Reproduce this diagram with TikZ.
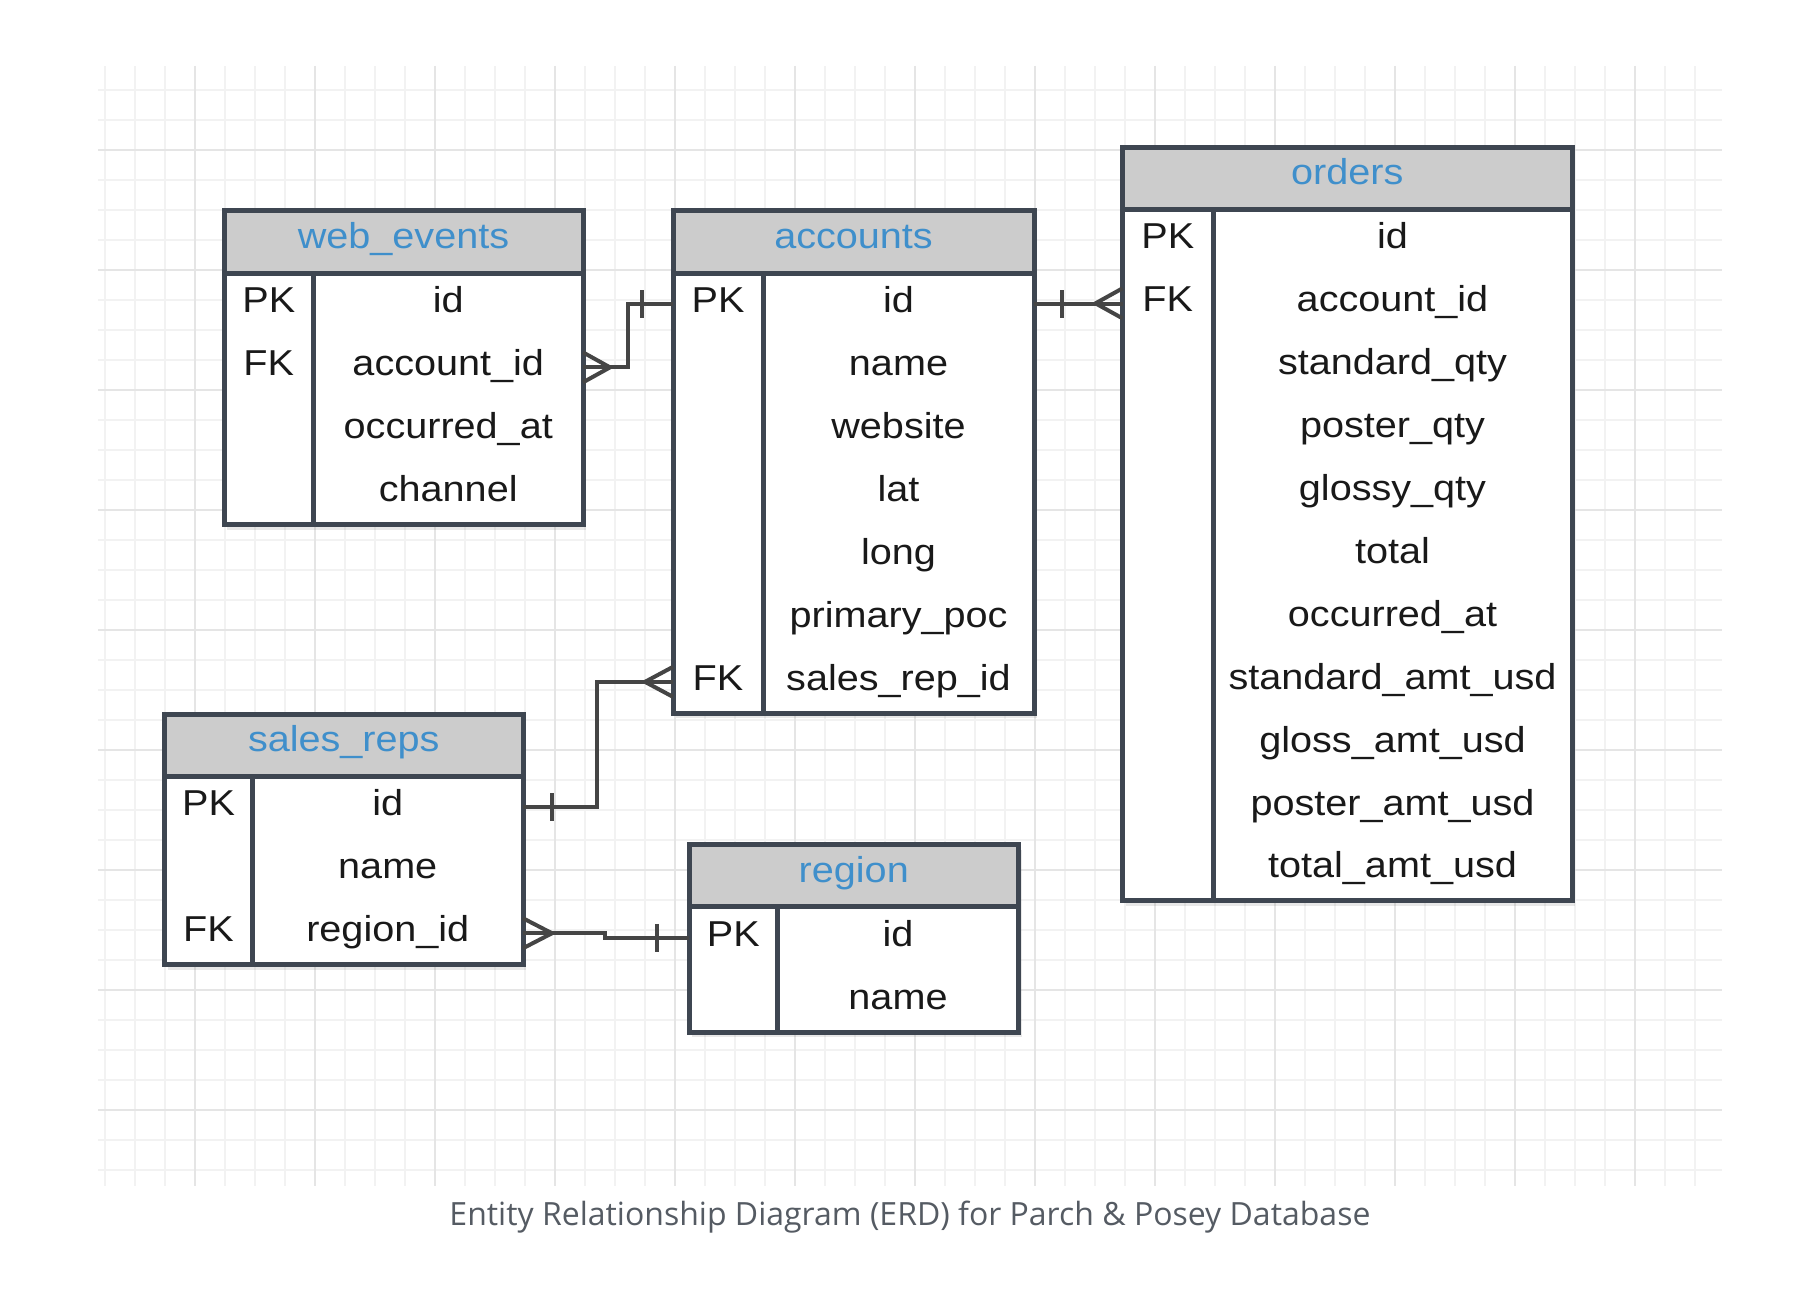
\documentclass[tikz,border=0pt]{standalone}
\usepackage{fontspec}
\usepackage{tikz}
\usetikzlibrary{shadows}
\newfontfamily\erdfont{Liberation Sans}[FakeStretch=1.1]
\newfontfamily\capfont{Open Sans}
\definecolor{erdline}{HTML}{3E4651}
\definecolor{headgray}{HTML}{CCCCCC}
\definecolor{titleblue}{HTML}{3F8FCB}
\definecolor{relgray}{HTML}{454545}
\definecolor{gridminor}{HTML}{F2F2F2}
\definecolor{gridmajor}{HTML}{E5E5E5}
\definecolor{capgray}{HTML}{555B63}
\newcommand{\erdsize}{\erdfont\fontsize{36}{40}\selectfont}
\tikzstyle{tablebox}=[draw=erdline, line width=5pt, fill=white, inner sep=0pt, outer sep=0pt, anchor=north west, drop shadow={shadow xshift=3pt, shadow yshift=-5pt, opacity=0.18}]
\tikzstyle{tablehead}=[draw=erdline, line width=5pt, fill=headgray, inner sep=0pt, outer sep=0pt, anchor=north west, text=titleblue, font=\erdsize, text height=26pt, text depth=13pt]
\tikzstyle{keycell}=[anchor=west, inner sep=0pt, outer sep=0pt, minimum height=62.9pt, text=black!90, font=\erdsize, text height=26pt, text depth=9pt]
\tikzstyle{fieldcell}=[keycell]
\tikzstyle{divider}=[draw=erdline, line width=5pt]
\tikzstyle{relline}=[draw=relgray, line width=4pt]
\begin{document}
\begin{tikzpicture}[x=1pt, y=-1pt]
                \useasboundingbox (0,0) rectangle (1808,1290);
                % grid
                \foreach \x in {105,135,...,1695} \draw[gridminor, line width=2pt] (\x,66) -- (\x,1186);
                \foreach \y in {90,120,...,1170} \draw[gridminor, line width=2pt] (98,\y) -- (1722,\y);
                \foreach \x in {195,315,...,1635} \draw[gridmajor, line width=2.5pt] (\x,66) -- (\x,1186);
                \foreach \y in {150,270,...,1110} \draw[gridmajor, line width=2.5pt] (98,\y) -- (1722,\y);
                % web_events
                \node[tablebox, minimum width=359pt, minimum height=314.6pt] (we) at (224, 210) {};
                \node[tablehead, minimum width=359pt, minimum height=63pt] (we-head) at (224, 210) {web\_events};
                \draw[divider] (313.5, 273) -- (313.5, 524.6);
                \node[keycell, minimum width=89.5pt] (we-pk) at (224, 304.45) {PK};
                \node[keycell, minimum width=89.5pt] (we-fk) at (224, 367.35) {FK};
                \node[fieldcell, minimum width=269.5pt] (we-id) at (313.5, 304.45) {id};
                \node[fieldcell, minimum width=269.5pt] (we-acc) at (313.5, 367.35) {account\_id};
                \node[fieldcell, minimum width=269.5pt] (we-occ) at (313.5, 430.25) {occurred\_at};
                \node[fieldcell, minimum width=269.5pt] (we-chan) at (313.5, 493.15) {channel};
                % accounts
                \node[tablebox, minimum width=361pt, minimum height=503.3pt] (acc) at (673, 210) {};
                \node[tablehead, minimum width=361pt, minimum height=63pt] (acc-head) at (673, 210) {accounts};
                \draw[divider] (763, 273) -- (763, 713.3);
                \node[keycell, minimum width=90pt] (acc-pk) at (673, 304.45) {PK};
                \node[keycell, minimum width=90pt] (acc-fk) at (673, 681.85) {FK};
                \node[fieldcell, minimum width=271pt] (acc-id) at (763, 304.45) {id};
                \node[fieldcell, minimum width=271pt] (acc-name) at (763, 367.35) {name};
                \node[fieldcell, minimum width=271pt] (acc-web) at (763, 430.25) {website};
                \node[fieldcell, minimum width=271pt] (acc-lat) at (763, 493.15) {lat};
                \node[fieldcell, minimum width=271pt] (acc-long) at (763, 556.05) {long};
                \node[fieldcell, minimum width=271pt] (acc-poc) at (763, 618.95) {primary\_poc};
                \node[fieldcell, minimum width=271pt] (acc-rep) at (763, 681.85) {sales\_rep\_id};
                % orders
                \node[tablebox, minimum width=449.5pt, minimum height=753.9pt] (ord) at (1122.5, 147) {};
                \node[tablehead, minimum width=449.5pt, minimum height=62pt] (ord-head) at (1122.5, 147) {orders};
                \draw[divider] (1213, 209) -- (1213, 900.9);
                \node[keycell, minimum width=90.5pt] (ord-pk) at (1122.5, 240.45) {PK};
                \node[keycell, minimum width=90.5pt] (ord-fk) at (1122.5, 303.35) {FK};
                \node[fieldcell, minimum width=359pt] (ord-id) at (1213, 240.45) {id};
                \node[fieldcell, minimum width=359pt] (ord-acc) at (1213, 303.35) {account\_id};
                \node[fieldcell, minimum width=359pt] (ord-sq) at (1213, 366.25) {standard\_qty};
                \node[fieldcell, minimum width=359pt] (ord-pq) at (1213, 429.15) {poster\_qty};
                \node[fieldcell, minimum width=359pt] (ord-gq) at (1213, 492.05) {glossy\_qty};
                \node[fieldcell, minimum width=359pt] (ord-tot) at (1213, 554.95) {total};
                \node[fieldcell, minimum width=359pt] (ord-occ) at (1213, 617.85) {occurred\_at};
                \node[fieldcell, minimum width=359pt] (ord-sa) at (1213, 680.75) {standard\_amt\_usd};
                \node[fieldcell, minimum width=359pt] (ord-ga) at (1213, 743.65) {gloss\_amt\_usd};
                \node[fieldcell, minimum width=359pt] (ord-pa) at (1213, 806.55) {poster\_amt\_usd};
                \node[fieldcell, minimum width=359pt] (ord-ta) at (1213, 869.45) {total\_amt\_usd};
                % sales_reps
                \node[tablebox, minimum width=358.5pt, minimum height=250.7pt] (sr) at (164.5, 714) {};
                \node[tablehead, minimum width=358.5pt, minimum height=62pt] (sr-head) at (164.5, 714) {sales\_reps};
                \draw[divider] (252.5, 776) -- (252.5, 964.7);
                \node[keycell, minimum width=88pt] (sr-pk) at (164.5, 807.45) {PK};
                \node[keycell, minimum width=88pt] (sr-fk) at (164.5, 933.25) {FK};
                \node[fieldcell, minimum width=270.5pt] (sr-id) at (252.5, 807.45) {id};
                \node[fieldcell, minimum width=270.5pt] (sr-name) at (252.5, 870.35) {name};
                \node[fieldcell, minimum width=270.5pt] (sr-reg) at (252.5, 933.25) {region\_id};
                % region
                \node[tablebox, minimum width=329.5pt, minimum height=187.8pt] (reg) at (689, 844.5) {};
                \node[tablehead, minimum width=329.5pt, minimum height=62pt] (reg-head) at (689, 844.5) {region};
                \draw[divider] (777.5, 906.5) -- (777.5, 1032.3);
                \node[keycell, minimum width=88.5pt] (reg-pk) at (689, 937.95) {PK};
                \node[fieldcell, minimum width=241pt] (reg-id) at (777.5, 937.95) {id};
                \node[fieldcell, minimum width=241pt] (reg-name) at (777.5, 1000.85) {name};
                % relations
                \draw[relline] (we-acc.east) -- ++(45,0) |- (acc-pk.west);
                \draw[relline] (we-acc.east) ++(0,-15) -- ++(27,15) -- ++(-27,15);
                \draw[relline] (acc-pk.west) ++(-31,-14) -- ++(0,28);
                \draw[relline] (acc-id.east) -- (acc-id.east -| ord-fk.west);
                \draw[relline] (acc-id.east) ++(28,-14) -- ++(0,28);
                \draw[relline] (ord-fk.west) ++(0,-15) -- ++(-27,15) -- ++(27,15);
                \draw[relline] (sr-id.east) -- ++(74,0) |- (acc-fk.west);
                \draw[relline] (sr-id.east) ++(29,-14) -- ++(0,28);
                \draw[relline] (acc-fk.west) ++(0,-15) -- ++(-28,15) -- ++(28,15);
                \draw[relline] (sr-reg.east) -- ++(82,0) |- (reg-pk.west);
                \draw[relline] (sr-reg.east) ++(0,-15) -- ++(29,15) -- ++(-29,15);
                \draw[relline] (reg-pk.west) ++(-32,-14) -- ++(0,28);
                % caption
                \node[text=capgray, font=\capfont\fontsize{32}{36}\selectfont] (caption) at (910, 1217) {Entity Relationship Diagram (ERD) for Parch \& Posey Database};
            \end{tikzpicture}
\end{document}
